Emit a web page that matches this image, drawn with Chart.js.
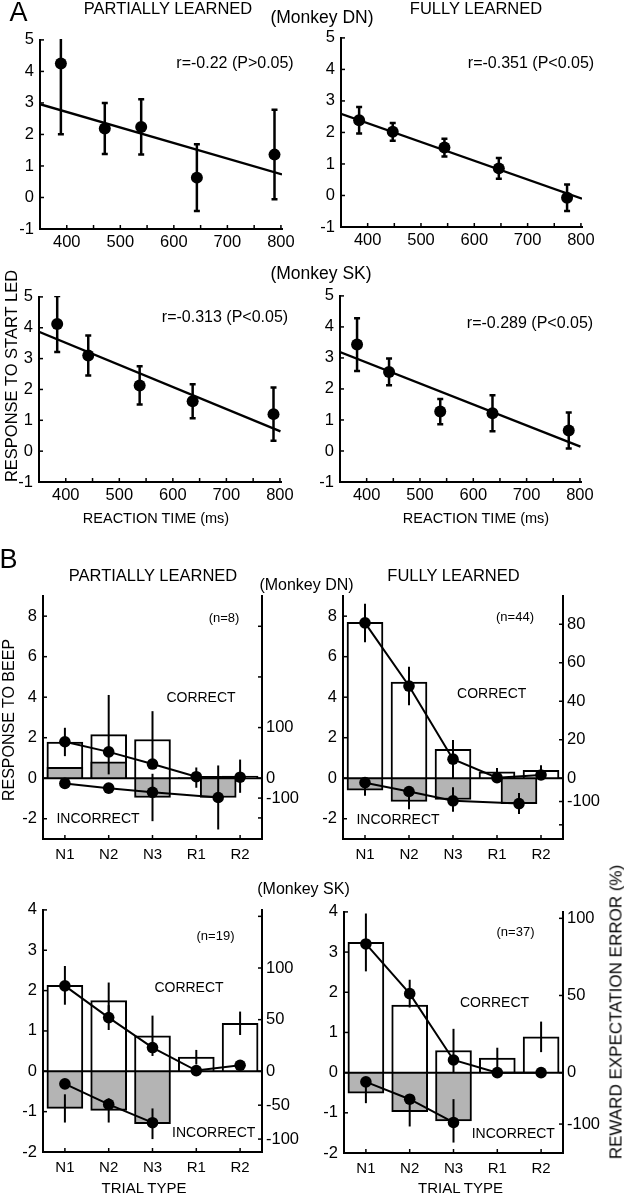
<!DOCTYPE html>
<html><head><meta charset="utf-8">
<script src="https://cdn.jsdelivr.net/npm/chart.js@4.4.0/dist/chart.umd.min.js"></script>
<style>
html,body{margin:0;padding:0;background:#fff;}
body{width:624px;height:1199px;position:relative;overflow:hidden;font-family:'Liberation Sans',Arial,Helvetica,sans-serif;color:#000;}
canvas{position:absolute;}
.t{position:absolute;white-space:nowrap;line-height:1;transform:translate(-50%,-50%);}
.v{position:absolute;white-space:nowrap;line-height:1;transform:translate(-50%,-50%) rotate(-90deg);}
</style></head><body>
<script>
// ================= DATA =================
// ---- Panel A: response to start LED vs reaction time ----
const aTicksX = [400, 500, 600, 700, 800];
const aMinorX = [400, 450, 500, 550, 600, 650, 700, 750, 800];
const aTicksY = [-1, 0, 1, 2, 3, 4, 5];

const dnPartRT   = [389, 471, 539, 643, 788];
const dnPartResp = [4.25, 2.19, 2.24, 0.63, 1.36];
const dnPartErr  = [2.24, 0.81, 0.88, 1.06, 1.42];
const dnPartFitX = [350, 802];
const dnPartFitY = [2.96, 0.73];

const dnFullRT   = [384, 447, 544, 646, 774];
const dnFullResp = [2.39, 2.02, 1.52, 0.86, -0.07];
const dnFullErr  = [0.42, 0.28, 0.28, 0.33, 0.42];
const dnFullFitX = [350, 802];
const dnFullFitY = [2.59, -0.10];

const skPartRT   = [384, 442, 538, 637, 788];
const skPartResp = [4.12, 3.10, 2.13, 1.62, 1.20];
const skPartErr  = [0.91, 0.65, 0.62, 0.55, 0.86];
const skPartFitX = [350, 801];
const skPartFitY = [3.87, 0.64];

const skFullRT   = [382, 442, 538, 636, 779];
const skFullResp = [3.43, 2.55, 1.27, 1.22, 0.66];
const skFullErr  = [0.85, 0.43, 0.41, 0.58, 0.58];
const skFullFitX = [350, 801];
const skFullFitY = [3.19, 0.14];

// ---- Panel B: response to beep (bars) and reward expectation error (lines, %) ----
const trialTypes = ['N1', 'N2', 'N3', 'R1', 'R2'];
const correctPos = [1, 2, 3, 4, 5];

const dnPartTicksY = [-2, 0, 2, 4, 6, 8];
const dnPartCorrect     = [1.79, 2.15, 1.91, 0.03, 0.10];
const dnPartCorrectErr  = [0.70, 1.96, 1.40, 0.50, 0.82];
const dnPartIncPos      = [1, 2, 3, 4.5];
const dnPartIncorrect   = [0.54, 0.81, -0.95, -0.95];
const dnPartIncorrectErr= [0, 0, 1.17, 1.58];
const dnPartREE         = [72, 52, 28, 3, 2];
const dnPartREEErr      = [0, 0, 0, 0, 0];
const dnPartREEInc      = [-26, -50, -71, -97];
const dnPartRTicks      = [300, 200, 100, 0, -100, -200];
const dnPartRLabels     = [100, 0, -100];

const dnFullTicksY = [-2, 0, 2, 4, 6, 8];
const dnFullCorrect     = [7.70, 4.74, 1.43, 0.31, 0.39];
const dnFullCorrectErr  = [0, 0, 0, 0, 0];
const dnFullIncPos      = [1, 2, 3, 4.5];
const dnFullIncorrect   = [-0.59, -1.15, -1.05, -1.25];
const dnFullIncorrectErr= [0.28, 0.38, 0.60, 0.52];
const dnFullREE         = [80.7, 47.9, 9.9, 0.3, 1.7];
const dnFullREEErr      = [10, 10, 10, 5, 5];
const dnFullREEInc      = [-19, -57, -97, -109];
const dnFullRTicks      = [80, 60, 40, 20, 0, -100, -200];
const dnFullRLabels     = [80, 60, 40, 20, 0, -100];

const skPartTicksY = [-2, -1, 0, 1, 2, 3, 4];
const skPartCorrect     = [2.13, 1.75, 0.88, 0.35, 1.19];
const skPartCorrectErr  = [0.48, 0.45, 0.50, 0.18, 0.29];
const skPartIncPos      = [1, 2, 3];
const skPartIncorrect   = [-0.92, -0.97, -1.30];
const skPartIncorrectErr= [0.35, 0.30, 0.38];
const skPartREE         = [82.7, 52, 23, 0.7, 5.8];
const skPartREEErr      = [0, 12, 0, 0, 0];
const skPartREEInc      = [-18.6, -48.8, -75.8];
const skPartRTicks      = [150, 100, 50, 0, -50, -100];
const skPartRLabels     = [100, 50, 0, -50, -100];

const skFullTicksY = [-2, -1, 0, 1, 2, 3, 4];
const skFullCorrect     = [3.24, 1.68, 0.55, 0.36, 0.89];
const skFullCorrectErr  = [0.72, 0, 0.54, 0.26, 0.38];
const skFullIncPos      = [1, 2, 3];
const skFullIncorrect   = [-0.51, -0.97, -1.20];
const skFullIncorrectErr= [0.25, 0.37, 0.54];
const skFullREE         = [83.4, 51.2, 8.2, 0, 0];
const skFullREEErr      = [0, 9, 0, 0, 0];
const skFullREEInc      = [-18, -51.7, -96.9];
const skFullRTicks      = [100, 50, 0, -100];
const skFullRLabels     = [100, 50, 0, -100];

// ================= CHART SETUP =================
Chart.defaults.font.family = "'Liberation Sans', Arial, Helvetica, sans-serif";
Chart.defaults.color = '#000';

// Right axis of panel B: piecewise linear (different scaling above/below zero)
class BrokenScale extends Chart.LinearScale {
  getPixelForValue(v) {
    if (v === null || v === undefined || isNaN(v)) return NaN;
    const u = v >= 0 ? v * this.options.pos : v * this.options.neg;
    return super.getPixelForValue(u);
  }
}
BrokenScale.id = 'broken';
BrokenScale.defaults = {};
Chart.register(BrokenScale);

function errPlugin(items, zeroLine) {
  return {
    id: 'errbars',
    afterDatasetsDraw(chart) {
      const ctx = chart.ctx, a = chart.chartArea;
      ctx.save();
      ctx.strokeStyle = '#000';
      if (zeroLine) {
        const y0 = chart.scales.y.getPixelForValue(0);
        ctx.lineWidth = 2;
        ctx.beginPath(); ctx.moveTo(a.left, y0); ctx.lineTo(a.right, y0); ctx.stroke();
      }
      ctx.beginPath();
      ctx.rect(a.left - 3, a.top - 1, a.right - a.left + 6, a.bottom - a.top + 2);
      ctx.clip();
      for (const it of items) {
        const meta = chart.getDatasetMeta(it.ds);
        const ys = chart.scales[meta.yAxisID];
        ctx.lineWidth = it.width;
        meta.data.forEach((el, i) => {
          const e = it.errs[i];
          if (!e) return;
          const v = meta.controller.getParsed(i).y;
          const x = el.x;
          const y1 = ys.getPixelForValue(v - e), y2 = ys.getPixelForValue(v + e);
          ctx.beginPath();
          ctx.moveTo(x, y1); ctx.lineTo(x, y2);
          if (it.cap) {
            ctx.moveTo(x - it.cap, y1); ctx.lineTo(x + it.cap, y1);
            ctx.moveTo(x - it.cap, y2); ctx.lineTo(x + it.cap, y2);
          }
          ctx.stroke();
        });
      }
      ctx.restore();
    }
  };
}

function tickPlugin(specs) {
  return {
    id: 'inticks',
    afterDraw(chart) {
      const ctx = chart.ctx, a = chart.chartArea;
      ctx.save();
      ctx.strokeStyle = '#000';
      ctx.lineWidth = 1.5;
      for (const s of specs) {
        const sc = chart.scales[s.axis];
        for (const v of s.values) {
          const p = sc.getPixelForValue(v);
          ctx.beginPath();
          if (s.axis === 'x') { ctx.moveTo(p, a.bottom); ctx.lineTo(p, a.bottom - s.len); }
          else if (sc.position === 'left') { ctx.moveTo(a.left, p); ctx.lineTo(a.left + s.len, p); }
          else { ctx.moveTo(a.right, p); ctx.lineTo(a.right - s.len, p); }
          ctx.stroke();
        }
      }
      ctx.restore();
    }
  };
}

function placeCanvas(l, t, w, h) {
  const c = document.createElement('canvas');
  c.width = w; c.height = h;
  c.style.left = l + 'px'; c.style.top = t + 'px';
  c.style.width = w + 'px'; c.style.height = h + 'px';
  document.body.appendChild(c);
  return c;
}

const axisBorder = { display: true, color: '#000', width: 2 };

function scatterPanel(rect, rt, resp, err, fitX, fitY) {
  const LW = 36, TP = 14, RW = 22, BH = 30;
  const W = rect.r - rect.l + LW + RW, H = rect.b - rect.t + TP + BH;
  const c = placeCanvas(rect.l - LW, rect.t - TP, W, H);
  new Chart(c, {
    type: 'scatter',
    data: { datasets: [
      { data: rt.map((x, i) => ({ x, y: resp[i] })), showLine: false, pointRadius: 6,
        pointBackgroundColor: '#000', pointBorderColor: '#000', pointBorderWidth: 0 },
      { data: fitX.map((x, i) => ({ x, y: fitY[i] })), showLine: true, borderColor: '#000',
        borderWidth: 2.3, pointRadius: 0 }
    ]},
    options: {
      responsive: false, animation: false, events: [],
      layout: { padding: { left: 0, top: TP, right: RW, bottom: 0 } },
      plugins: { legend: { display: false }, tooltip: { enabled: false } },
      scales: {
        x: { type: 'linear', min: 350, max: 802,
          afterBuildTicks: s => { s.ticks = aTicksX.map(v => ({ value: v })); },
          afterFit: s => { s.height = BH; },
          grid: { display: false, drawTicks: false }, border: axisBorder,
          ticks: { font: { size: 16.5 }, padding: 4, autoSkip: false, maxRotation: 0, color: '#000' } },
        y: { type: 'linear', min: -1, max: 5,
          afterBuildTicks: s => { s.ticks = aTicksY.map(v => ({ value: v })); },
          afterFit: s => { s.width = LW; },
          grid: { display: false, drawTicks: false }, border: axisBorder,
          ticks: { font: { size: 16.5 }, padding: 6, autoSkip: false, color: '#000' } }
      }
    },
    plugins: [
      errPlugin([{ ds: 0, errs: err, cap: 3, width: 2.5 }], false),
      tickPlugin([{ axis: 'x', values: aMinorX, len: 4 }, { axis: 'y', values: aTicksY, len: 4 }])
    ]
  });
}

function barPanel(rect, p) {
  const LW = 36, TP = 14, RW = 48, BH = 30;
  const W = rect.r - rect.l + LW + RW, H = rect.b - rect.t + TP + BH;
  const c = placeCanvas(rect.l - LW, rect.t - TP, W, H);
  const lineStyle = { type: 'line', yAxisID: 'y2', borderColor: '#000', borderWidth: 2, pointRadius: 5.8,
    pointBackgroundColor: '#000', pointBorderColor: '#000', pointBorderWidth: 0, tension: 0, order: 0 };
  const barStyle = { type: 'bar', yAxisID: 'y', borderColor: '#000', borderWidth: 2, borderSkipped: 'start',
    barThickness: 36, grouped: false };
  new Chart(c, {
    type: 'bar',
    data: { datasets: [
      Object.assign({ data: correctPos.map((x, i) => ({ x, y: p.ree[i] })) }, lineStyle),
      Object.assign({ data: p.incPos.map((x, i) => ({ x, y: p.reeInc[i] })) }, lineStyle),
      Object.assign({ data: p.incPos.map((x, i) => ({ x, y: p.incorrect[i] })), backgroundColor: '#b4b4b4', order: 1 }, barStyle),
      Object.assign({ data: correctPos.map((x, i) => ({ x, y: p.correct[i] })), backgroundColor: '#ffffff', order: 2 }, barStyle)
    ]},
    options: {
      responsive: false, animation: false, events: [],
      layout: { padding: { left: 0, top: TP, right: 0, bottom: 0 } },
      plugins: { legend: { display: false }, tooltip: { enabled: false } },
      scales: {
        x: { type: 'linear', min: 0.5, max: 5.5, offset: false,
          afterBuildTicks: s => { s.ticks = correctPos.map(v => ({ value: v })); },
          afterFit: s => { s.height = BH; },
          grid: { display: false, drawTicks: false }, border: axisBorder,
          ticks: { font: { size: 15 }, padding: 7, autoSkip: false, maxRotation: 0, color: '#000',
            callback: v => trialTypes[Math.round(v) - 1] } },
        y: { type: 'linear', position: 'left', min: p.yMin, max: p.yMax,
          afterBuildTicks: s => { s.ticks = p.yTicks.map(v => ({ value: v })); },
          afterFit: s => { s.width = LW; },
          grid: { display: false, drawTicks: false },
          border: axisBorder,
          ticks: { font: { size: 16.5 }, padding: 6, autoSkip: false, color: '#000' } },
        y2: { type: 'broken', position: 'right', min: p.yMin, max: p.yMax, pos: p.pos, neg: p.neg,
          afterBuildTicks: s => { s.ticks = p.rTicks.map(v => ({ value: v })); },
          afterFit: s => { s.width = RW; },
          grid: { display: false, drawTicks: false }, border: axisBorder,
          ticks: { font: { size: 16.5 }, padding: 4, autoSkip: false, color: '#000',
            callback: v => p.rLabels.includes(v) ? String(v) : '' } }
      }
    },
    plugins: [
      errPlugin([
        { ds: 3, errs: p.correctErr, cap: 0, width: 2 },
        { ds: 2, errs: p.incorrectErr, cap: 0, width: 2 },
        { ds: 0, errs: p.reeErr, cap: 0, width: 2 }
      ], true),
      tickPlugin([
        { axis: 'x', values: correctPos, len: 4 },
        { axis: 'y', values: p.yTicks, len: 4 },
        { axis: 'y2', values: p.rTicks, len: 4 }
      ])
    ]
  });
}

// ---- Panel A ----
scatterPanel({ l: 40, r: 282, t: 38, b: 229 }, dnPartRT, dnPartResp, dnPartErr, dnPartFitX, dnPartFitY);
scatterPanel({ l: 341, r: 582, t: 36, b: 227 }, dnFullRT, dnFullResp, dnFullErr, dnFullFitX, dnFullFitY);
scatterPanel({ l: 39, r: 281, t: 295, b: 482 }, skPartRT, skPartResp, skPartErr, skPartFitX, skPartFitY);
scatterPanel({ l: 340, r: 581, t: 294, b: 482 }, skFullRT, skFullResp, skFullErr, skFullFitX, skFullFitY);

// ---- Panel B ----
barPanel({ l: 43, r: 262, t: 594, b: 839 }, { yMin: -3, yMax: 9, yTicks: dnPartTicksY, pos: 0.025, neg: 0.0098,
  rTicks: dnPartRTicks, rLabels: dnPartRLabels, correct: dnPartCorrect, correctErr: dnPartCorrectErr,
  incPos: dnPartIncPos, incorrect: dnPartIncorrect, incorrectErr: dnPartIncorrectErr,
  ree: dnPartREE, reeErr: dnPartREEErr, reeInc: dnPartREEInc });
barPanel({ l: 343, r: 563, t: 594, b: 839 }, { yMin: -3, yMax: 9, yTicks: dnFullTicksY, pos: 0.095, neg: 0.0115,
  rTicks: dnFullRTicks, rLabels: dnFullRLabels, correct: dnFullCorrect, correctErr: dnFullCorrectErr,
  incPos: dnFullIncPos, incorrect: dnFullIncorrect, incorrectErr: dnFullIncorrectErr,
  ree: dnFullREE, reeErr: dnFullREEErr, reeInc: dnFullREEInc });
barPanel({ l: 43, r: 262, t: 908, b: 1152 }, { yMin: -2, yMax: 4, yTicks: skPartTicksY, pos: 0.0256, neg: 0.0168,
  rTicks: skPartRTicks, rLabels: skPartRLabels, correct: skPartCorrect, correctErr: skPartCorrectErr,
  incPos: skPartIncPos, incorrect: skPartIncorrect, incorrectErr: skPartIncorrectErr,
  ree: skPartREE, reeErr: skPartREEErr, reeInc: skPartREEInc });
barPanel({ l: 344, r: 563, t: 910, b: 1153 }, { yMin: -2, yMax: 4, yTicks: skFullTicksY, pos: 0.0384, neg: 0.0128,
  rTicks: skFullRTicks, rLabels: skFullRLabels, correct: skFullCorrect, correctErr: skFullCorrectErr,
  incPos: skFullIncPos, incorrect: skFullIncorrect, incorrectErr: skFullIncorrectErr,
  ree: skFullREE, reeErr: skFullREEErr, reeInc: skFullREEInc });

// ---- Text overlays: [text, centerX, centerY, fontSize, vertical] ----
const texts = [
  ['A', 18.5, 12, 27],
  ['PARTIALLY LEARNED', 168, 8, 16.5],
  ['(Monkey DN)', 322, 18, 17.5],
  ['FULLY LEARNED', 476, 8, 16.5],
  ['r=-0.22 (P>0.05)', 235, 63, 16],
  ['r=-0.351 (P<0.05)', 531, 63.3, 16],
  ['(Monkey SK)', 321, 274, 17.5],
  ['r=-0.313 (P<0.05)', 225, 317.3, 16],
  ['r=-0.289 (P<0.05)', 530, 323.3, 16],
  ['REACTION TIME (ms)', 156, 518.3, 14.5],
  ['REACTION TIME (ms)', 476, 518.3, 14.5],
  ['RESPONSE TO START LED', 11, 376, 16.5, true],
  ['B', 8.5, 559, 27],
  ['PARTIALLY LEARNED', 153, 575, 16.5],
  ['(Monkey DN)', 306.5, 585, 16],
  ['FULLY LEARNED', 453.5, 575, 16.5],
  ['(n=8)', 224, 616.7, 13],
  ['CORRECT', 201, 696.7, 14],
  ['INCORRECT', 98, 818.3, 14],
  ['(n=44)', 515, 616, 13],
  ['CORRECT', 491.7, 693.3, 14],
  ['INCORRECT', 398, 819, 14],
  ['RESPONSE TO BEEP', 9, 720, 16, true],
  ['(Monkey SK)', 303.5, 889, 16],
  ['(n=19)', 215.5, 935, 13],
  ['CORRECT', 189, 986.7, 14],
  ['INCORRECT', 213.7, 1132.3, 14],
  ['TRIAL TYPE', 144, 1186.7, 15],
  ['(n=37)', 515.5, 930.7, 13],
  ['CORRECT', 494.5, 1001.7, 14],
  ['INCORRECT', 513.3, 1133.3, 14],
  ['TRIAL TYPE', 460.5, 1186.7, 15],
  ['REWARD EXPECTATION ERROR (%)', 616, 1012, 17, true]
];
for (const [txt, x, y, fs, vert] of texts) {
  const d = document.createElement('div');
  d.className = vert ? 'v' : 't';
  d.textContent = txt;
  d.style.left = x + 'px';
  d.style.top = y + 'px';
  d.style.fontSize = fs + 'px';
  document.body.appendChild(d);
}
</script>
</body></html>
